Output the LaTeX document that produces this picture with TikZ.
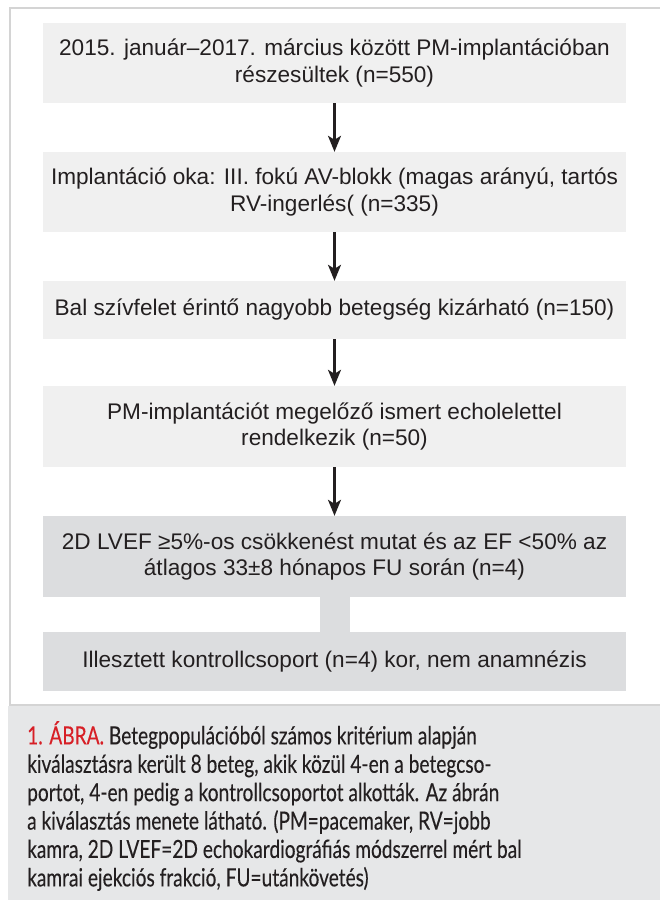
\documentclass[tikz,border=0pt]{standalone}
\usepackage{fontspec}
\setmainfont{Liberation Sans}
\newfontfamily\capfont[FakeStretch=0.765,FakeBold=0.2]{Lato}
\usetikzlibrary{arrows.meta}
\definecolor{txt}{HTML}{231F20}
\definecolor{boxlight}{HTML}{F0F0F0}
\definecolor{boxdark}{HTML}{DCDDDF}
\definecolor{framecol}{HTML}{D4D4D4}
\definecolor{capbg}{HTML}{E6E7E8}
\definecolor{capred}{HTML}{D71F26}
\tikzset{
  flowbox/.style={fill=boxlight, draw=none, minimum width=583pt, inner sep=0pt,
    align=center, text=txt, font=\fontsize{22.6}{26.5}\selectfont},
  flowdark/.style={flowbox, fill=boxdark},
  flowarrow/.style={draw=txt, line width=2.2pt, -{Stealth[length=16pt,width=13pt,inset=4pt]}},
}
\begin{document}
\begin{tikzpicture}[x=1pt,y=-1pt]
\useasboundingbox (0,0) rectangle (659,900);
\fill[white] (0,0) rectangle (659,900);
\draw[framecol, line width=1.3pt] (10,8) rectangle (662,705);
\fill[capbg] (8,705.7) rectangle (662,902);

\node[flowbox, minimum height=80pt] (b1) at (334.5,63)
  {2015. január--2017. március között PM-implantációban\\részesültek (n=550)};
\node[flowbox, minimum height=80pt] (b2) at (334.5,192)
  {Implantáció oka: III. fokú AV-blokk (magas arányú, tartós\\RV-ingerlés( (n=335)};
\node[flowbox, minimum height=58pt] (b3) at (334.5,310)
  {Bal szívfelet érintő nagyobb betegség kizárható (n=150)};
\node[flowbox, minimum height=81pt] (b4) at (334.5,426.5)
  {PM-implantációt megelőző ismert echolelettel\\rendelkezik (n=50)};
\node[flowdark, minimum height=81pt] (b5) at (334.5,556.5)
  {2D LVEF ≥5\%-os csökkenést mutat és az EF <50\% az\\átlagos 33±8 hónapos FU során (n=4)};
\node[flowdark, minimum height=59pt] (b6) at (334.5,661.5)
  {Illesztett kontrollcsoport (n=4) kor, nem anamnézis};

\draw[flowarrow] (b1.south) -- (b2.north);
\draw[flowarrow] (b2.south) -- (b3.north);
\draw[flowarrow] (b3.south) -- (b4.north);
\draw[flowarrow] (b4.south) -- (b5.north);
\draw[boxdark, line width=30pt] (b5.south) -- (b6.north);

\node[anchor=north west, align=left, inner sep=0pt, text=txt,
  font=\capfont\fontsize{25}{28.4}\selectfont] (cap) at (27,721)
  {\textcolor{capred}{1. ÁBRA.} Betegpopulációból számos kritérium alapján\\
   kiválasztásra került 8 beteg, akik közül 4-en a betegcso-\\
   portot, 4-en pedig a kontrollcsoportot alkották. Az ábrán\\
   a kiválasztás menete látható. (PM=pacemaker, RV=jobb\\
   kamra, 2D LVEF=2D echokardiográfiás módszerrel mért bal\\
   kamrai ejekciós frakció, FU=utánkövetés)};
\end{tikzpicture}
\end{document}
